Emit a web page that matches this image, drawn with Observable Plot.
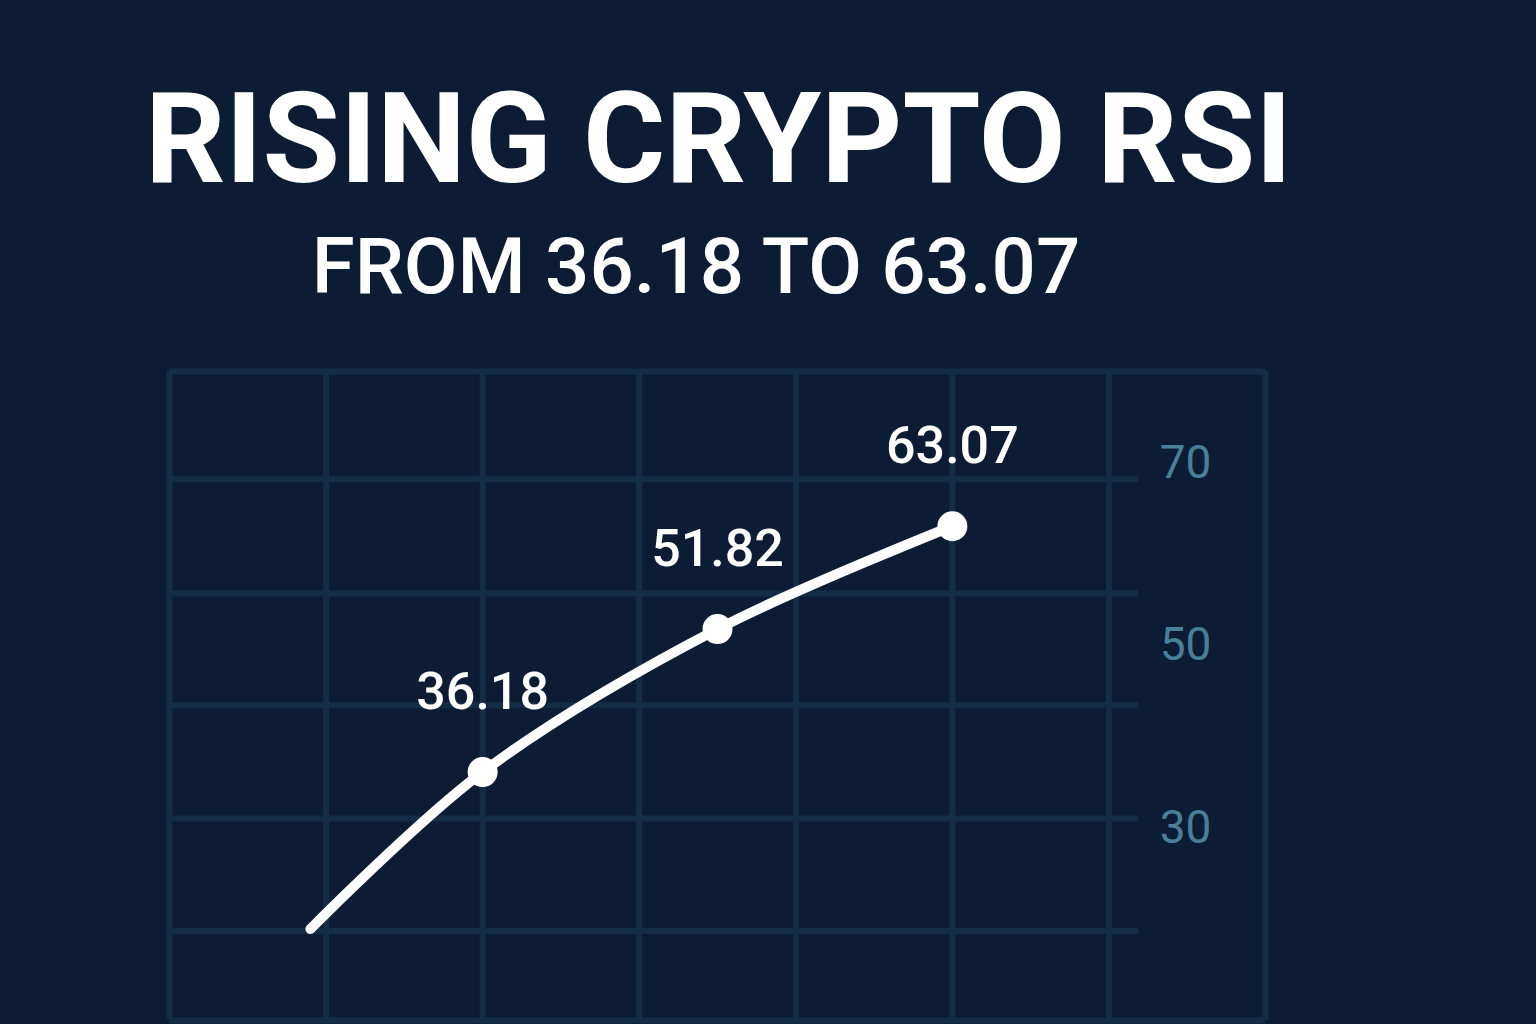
<!DOCTYPE html>
<html>
<head>
<meta charset="utf-8">
<script src="https://cdn.jsdelivr.net/npm/d3@7"></script>
<script src="https://cdn.jsdelivr.net/npm/@observablehq/plot@0.6"></script>
<style>
  html, body { margin: 0; padding: 0; background: #0b1c34; width: 1536px; height: 1024px; overflow: hidden; }
  #header { position: relative; width: 1536px; height: 340px; }
  .t { position: absolute; white-space: nowrap; transform: translateX(-50%); color: #ffffff; font-family: Roboto, "Noto Sans", sans-serif; line-height: 1; }
  #title { left: 718.5px; top: 76px; font-size: 126px; font-weight: 700; }
  #subtitle { left: 696px; top: 228px; font-size: 78px; font-weight: 500; }
  #chart svg { display: block; }
</style>
</head>
<body>
<div id="header">
  <div class="t" id="title">RISING CRYPTO RSI</div>
  <div class="t" id="subtitle">FROM 36.18 TO 63.07</div>
</div>
<div id="chart"></div>
<script>
// Data
const periods = [0.9, 2, 3.5, 5];
const rsi = [19, 36.18, 51.82, 63.07];
const labels = ["", "36.18", "51.82", "63.07"];
const marked = [false, true, true, true];

// Axis / grid values
const yTicks = [30, 50, 70];
const xGrid = [0, 1, 2, 3, 4, 5, 6, 7];
const yGrid = [18.8, 31.1, 43.5, 55.7, 68.2];
const yFrame = [9, 80];

const data = periods.map((p, i) => ({x: p, y: rsi[i], label: labels[i], marked: marked[i]}));
const points = data.filter(d => d.marked);

const gridColor = "#142d46";

const chart = Plot.plot({
  width: 1536,
  height: 684,
  marginTop: 31,
  marginBottom: 4,
  marginLeft: 169,
  marginRight: 271,
  style: {background: "transparent", color: "#4a7f99", fontFamily: "Roboto, sans-serif"},
  x: {domain: [0, 7], axis: null, label: null},
  y: {domain: yFrame, axis: null, label: null},
  marks: [
    Plot.ruleX(xGrid, {stroke: gridColor, strokeWidth: 6}),
    Plot.ruleY(yFrame, {stroke: gridColor, strokeWidth: 6}),
    Plot.ruleY(yGrid, {x1: 0, x2: 6.19, stroke: gridColor, strokeWidth: 6}),
    Plot.axisY(yTicks, {
      anchor: "right",
      label: null,
      tickSize: 0,
      tickPadding: 0,
      dx: -80,
      textAnchor: "middle",
      fontSize: 46,
      fill: "#4a7f99",
      tickFormat: d => String(d)
    }),
    Plot.line(data, {x: "x", y: "y", curve: "catmull-rom", stroke: "#ffffff", strokeWidth: 10, strokeLinecap: "round", strokeLinejoin: "round"}),
    Plot.dot(points, {x: "x", y: "y", r: 15, fill: "#ffffff"}),
    Plot.text(points, {x: "x", y: "y", text: "label", dy: -80, fill: "#ffffff", fontSize: 52, fontWeight: 500, fontFamily: "Roboto, sans-serif"})
  ]
});
document.getElementById("chart").appendChild(chart);
</script>
</body>
</html>
